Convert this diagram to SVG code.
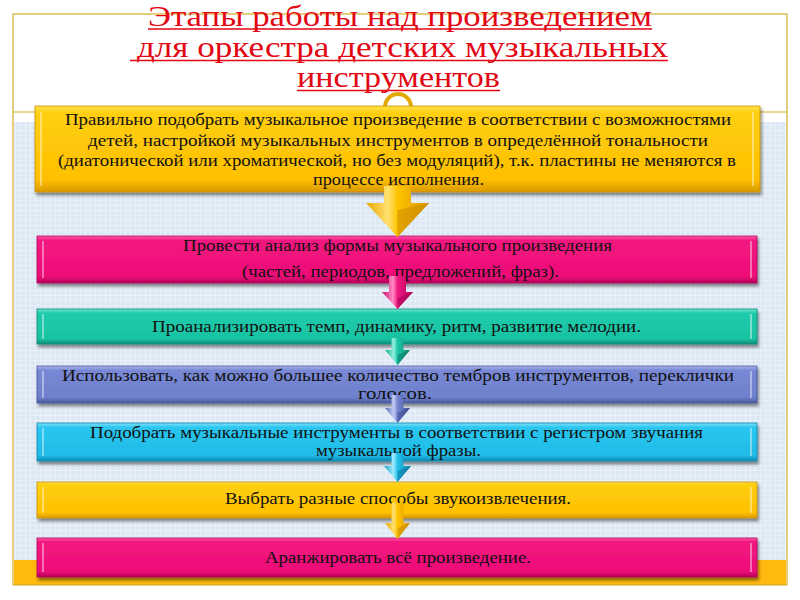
<svg xmlns="http://www.w3.org/2000/svg" width="800" height="600" viewBox="0 0 800 600">
<style>
.title{font-family:"Liberation Serif","Times New Roman",serif;font-size:30px;fill:#E30613;text-anchor:middle}
.ul{stroke:#E30613;stroke-width:1.6}
.t{font-family:"Liberation Serif","Times New Roman",serif;font-size:17px;fill:#111;text-anchor:middle}
.hl{stroke:#fff;stroke-opacity:0.55;stroke-width:1.5}
.frame{fill:none;stroke:#D6AE2A;stroke-width:1.2}
</style>
<defs>
<pattern id="grid" width="5" height="5" patternUnits="userSpaceOnUse">
<rect width="5" height="5" fill="#DDE8F4"/>
<path d="M0 0.5H5M0.5 0V5" stroke="#E9F1F9" stroke-width="1"/>
</pattern>
<filter id="sh" x="-5%" y="-20%" width="110%" height="150%">
<feDropShadow dx="1.5" dy="3" stdDeviation="1.6" flood-color="#000" flood-opacity="0.45"/>
</filter>
<linearGradient id="gY" x1="0" y1="0" x2="0" y2="1">
<stop offset="0" stop-color="#FFE14A"/><stop offset="0.08" stop-color="#FFCF10"/><stop offset="0.85" stop-color="#FFC000"/><stop offset="1" stop-color="#D99A00"/>
</linearGradient>
<linearGradient id="gP" x1="0" y1="0" x2="0" y2="1">
<stop offset="0" stop-color="#FF5AA6"/><stop offset="0.1" stop-color="#F2157F"/><stop offset="0.85" stop-color="#EE0E78"/><stop offset="1" stop-color="#B8005A"/>
</linearGradient>
<linearGradient id="gT" x1="0" y1="0" x2="0" y2="1">
<stop offset="0" stop-color="#6FE8D0"/><stop offset="0.12" stop-color="#1FCBAB"/><stop offset="0.85" stop-color="#18C3A3"/><stop offset="1" stop-color="#0E8F78"/>
</linearGradient>
<linearGradient id="gV" x1="0" y1="0" x2="0" y2="1">
<stop offset="0" stop-color="#AAB6EA"/><stop offset="0.12" stop-color="#7888D4"/><stop offset="0.85" stop-color="#6E80CC"/><stop offset="1" stop-color="#4A5AA0"/>
</linearGradient>
<linearGradient id="gC" x1="0" y1="0" x2="0" y2="1">
<stop offset="0" stop-color="#80E0FA"/><stop offset="0.12" stop-color="#2AC6EF"/><stop offset="0.85" stop-color="#20BCE8"/><stop offset="1" stop-color="#1288B0"/>
</linearGradient>
<linearGradient id="aY" x1="0" y1="0" x2="1" y2="0">
<stop offset="0" stop-color="#E8A800"/><stop offset="0.35" stop-color="#FFE070"/><stop offset="0.5" stop-color="#FFC400"/><stop offset="1" stop-color="#D89400"/>
</linearGradient>
<linearGradient id="aP" x1="0" y1="0" x2="1" y2="0">
<stop offset="0" stop-color="#D0066A"/><stop offset="0.35" stop-color="#FF8CC4"/><stop offset="0.5" stop-color="#EE1A80"/><stop offset="1" stop-color="#B8005C"/>
</linearGradient>
<linearGradient id="aT" x1="0" y1="0" x2="1" y2="0">
<stop offset="0" stop-color="#10A88C"/><stop offset="0.35" stop-color="#90F0DC"/><stop offset="0.5" stop-color="#1CC8A8"/><stop offset="1" stop-color="#0C8C74"/>
</linearGradient>
<linearGradient id="aV" x1="0" y1="0" x2="1" y2="0">
<stop offset="0" stop-color="#5868B4"/><stop offset="0.35" stop-color="#C2CCF4"/><stop offset="0.5" stop-color="#7484D0"/><stop offset="1" stop-color="#46559C"/>
</linearGradient>
<linearGradient id="aC" x1="0" y1="0" x2="1" y2="0">
<stop offset="0" stop-color="#14A0CC"/><stop offset="0.35" stop-color="#A0EAFC"/><stop offset="0.5" stop-color="#24C0EC"/><stop offset="1" stop-color="#0E84AE"/>
</linearGradient>
</defs>

<g id="background">
<rect x="0" y="0" width="800" height="600" fill="#fff"/>
<rect x="14" y="122" width="772" height="438" fill="url(#grid)"/>
<rect x="14" y="560" width="772" height="25" fill="#FFB90F"/>
<rect class="frame" x="13" y="14" width="774" height="571"/>
<line class="frame" x1="13" y1="112" x2="787" y2="112"/>
</g>

<g id="title">
<text class="title" x="400" y="26" textLength="504" lengthAdjust="spacingAndGlyphs">Этапы работы над произведением</text>
<line class="ul" x1="148" y1="29" x2="652" y2="29"/>
<text class="title" x="402.5" y="57" textLength="531" lengthAdjust="spacingAndGlyphs">для оркестра детских музыкальных</text>
<line class="ul" x1="130" y1="60.5" x2="668" y2="60.5"/>
<text class="title" x="398.5" y="87" textLength="203" lengthAdjust="spacingAndGlyphs">инструментов</text>
<line class="ul" x1="297" y1="90.5" x2="500" y2="90.5"/>
</g>

<g id="ring">
<path d="M385 107 A13 13 0 0 1 411 107" fill="none" stroke="#E2A800" stroke-width="4"/>
</g>

<g id="step1">
<rect x="35" y="106" width="725" height="86" fill="url(#gY)" stroke="#C99000" stroke-width="0.8" filter="url(#sh)"/>
<line class="hl" x1="41" y1="112" x2="41" y2="186"/>
<line class="hl" x1="753" y1="112" x2="753" y2="186"/>
<text class="t" x="398" y="125" textLength="666" lengthAdjust="spacingAndGlyphs">Правильно подобрать музыкальное произведение в соответствии с возможностями</text>
<text class="t" x="398" y="146" textLength="620" lengthAdjust="spacingAndGlyphs">детей, настройкой музыкальных инструментов в определённой тональности</text>
<text class="t" x="397" y="166" textLength="678" lengthAdjust="spacingAndGlyphs">(диатонической или хроматической, но без модуляций), т.к. пластины не меняются в</text>
<text class="t" x="398.5" y="185" textLength="171" lengthAdjust="spacingAndGlyphs">процессе исполнения.</text>
</g>

<g id="step2">
<rect x="37" y="236" width="720" height="47" fill="url(#gP)" stroke="#B0005A" stroke-width="0.8" filter="url(#sh)"/>
<line class="hl" x1="43" y1="241" x2="43" y2="278"/>
<line class="hl" x1="751" y1="241" x2="751" y2="278"/>
<text class="t" x="397.5" y="251" textLength="429" lengthAdjust="spacingAndGlyphs" fill="#2a0010">Провести анализ формы музыкального произведения</text>
<text class="t" x="400.5" y="277" textLength="317" lengthAdjust="spacingAndGlyphs">(частей, периодов, предложений, фраз).</text>
</g>

<g id="step3">
<rect x="37" y="309" width="720" height="35" fill="url(#gT)" stroke="#0C8A72" stroke-width="0.8" filter="url(#sh)"/>
<line class="hl" x1="43" y1="314" x2="43" y2="339"/>
<line class="hl" x1="751" y1="314" x2="751" y2="339"/>
<text class="t" x="396.5" y="332" textLength="489" lengthAdjust="spacingAndGlyphs">Проанализировать темп, динамику, ритм, развитие  мелодии.</text>
</g>

<g id="step4">
<rect x="37" y="366" width="720" height="37" fill="url(#gV)" stroke="#44549A" stroke-width="0.8" filter="url(#sh)"/>
<line class="hl" x1="43" y1="371" x2="43" y2="398"/>
<line class="hl" x1="751" y1="371" x2="751" y2="398"/>
<text class="t" x="398" y="381" textLength="672" lengthAdjust="spacingAndGlyphs">Использовать,  как можно большее количество тембров инструментов, переклички</text>
<text class="t" x="395" y="399" textLength="74" lengthAdjust="spacingAndGlyphs">голосов.</text>
</g>

<g id="step5">
<rect x="37" y="423" width="720" height="38" fill="url(#gC)" stroke="#1088B0" stroke-width="0.8" filter="url(#sh)"/>
<line class="hl" x1="43" y1="428" x2="43" y2="456"/>
<line class="hl" x1="751" y1="428" x2="751" y2="456"/>
<text class="t" x="396.5" y="438" textLength="613" lengthAdjust="spacingAndGlyphs">Подобрать музыкальные инструменты в соответствии с регистром звучания</text>
<text class="t" x="398.5" y="456" textLength="165" lengthAdjust="spacingAndGlyphs">музыкальной фразы.</text>
</g>

<g id="step6">
<rect x="37" y="482" width="720" height="36" fill="url(#gY)" stroke="#C99000" stroke-width="0.8" filter="url(#sh)"/>
<line class="hl" x1="43" y1="487" x2="43" y2="513"/>
<line class="hl" x1="751" y1="487" x2="751" y2="513"/>
<text class="t" x="398" y="504" textLength="346" lengthAdjust="spacingAndGlyphs">Выбрать разные способы звукоизвлечения.</text>
</g>

<g id="step7">
<rect x="37" y="538" width="720" height="39" fill="url(#gP)" stroke="#B0005A" stroke-width="0.8" filter="url(#sh)"/>
<line class="hl" x1="43" y1="543" x2="43" y2="572"/>
<line class="hl" x1="751" y1="543" x2="751" y2="572"/>
<text class="t" x="398" y="563" textLength="266" lengthAdjust="spacingAndGlyphs" fill="#2a0010">Аранжировать всё произведение.</text>
</g>

<g id="connectors">
<path d="M384 186 H411 V203 H429 L397.5 237 L366 203 H384 Z" fill="url(#aY)"/>
<path d="M397.5 210 L429 203 L397.5 237 Z" fill="#C98A00" opacity="0.55"/>
<path d="M389 276 H406 V292 H413 L397.5 309 L382 292 H389 Z" fill="url(#aP)"/>
<path d="M397.5 298 L413 292 L397.5 309 Z" fill="#A0004E" opacity="0.5"/>
<path d="M391.5 338 H403.5 V350 H410 L397.5 365 L385 350 H391.5 Z" fill="url(#aT)"/>
<path d="M397.5 355 L410 350 L397.5 365 Z" fill="#087060" opacity="0.5"/>
<path d="M391.5 395 H403.5 V408 H410 L397.5 423 L385 408 H391.5 Z" fill="url(#aV)"/>
<path d="M397.5 413 L410 408 L397.5 423 Z" fill="#38468A" opacity="0.5"/>
<path d="M391.5 453 H403.5 V466 H411 L397.5 482 L384 466 H391.5 Z" fill="url(#aC)"/>
<path d="M397.5 471 L411 466 L397.5 482 Z" fill="#0A6E94" opacity="0.5"/>
<path d="M391.5 503 H403.5 V523 H410 L397.5 539 L385 523 H391.5 Z" fill="url(#aY)"/>
<path d="M397.5 528 L410 523 L397.5 539 Z" fill="#C98A00" opacity="0.55"/>
</g>
</svg>
